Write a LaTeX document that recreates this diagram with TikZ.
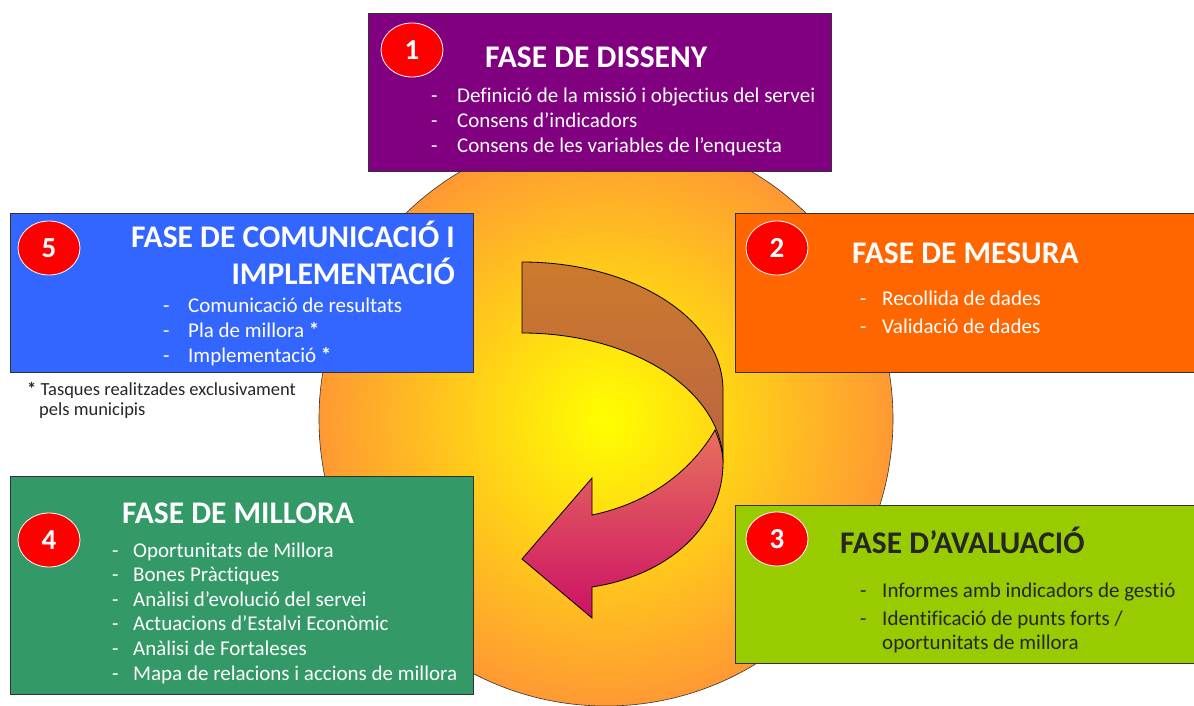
\documentclass[tikz,border=0pt]{standalone}
\usepackage{fontspec}
\setmainfont{Carlito}[Ligatures=NoCommon]
\usetikzlibrary{shapes.geometric}

\definecolor{morat}{HTML}{800080}
\definecolor{blau}{HTML}{3366FF}
\definecolor{taronja}{HTML}{FF6600}
\definecolor{pistatxo}{HTML}{99CC00}
\definecolor{verd}{HTML}{339966}
\definecolor{vermell}{HTML}{FF0000}
\definecolor{groc}{HTML}{FFFF00}
\definecolor{vora}{HTML}{FF9933}
\definecolor{marro}{HTML}{CC7A2C}
\definecolor{marrofosc}{HTML}{BA6442}
\definecolor{rosa}{HTML}{E8705C}
\definecolor{magenta}{HTML}{CC1166}
\definecolor{fosc}{HTML}{262626}

\tikzset{
  fase/.style={draw=black!80, line width=0.8pt, rectangle, anchor=north west, inner sep=0pt},
  numero/.style={draw=white, line width=0.8pt, fill=vermell, ellipse, minimum width=62pt,
    minimum height=54pt, inner sep=0pt, text=white, font=\fontsize{29}{32}\selectfont\bfseries},
  titol/.style={anchor=base west, inner sep=0pt, text=white, font=\fontsize{31.5}{36}\selectfont\bfseries},
  punt/.style={anchor=base west, inner sep=0pt, text=white, font=\fontsize{21}{25}\selectfont},
  nota/.style={anchor=base west, inner sep=0pt, text=fosc, font=\fontsize{18.5}{20}\selectfont},
  freccia/.style={draw=black, line width=0.8pt}
}

\begin{document}
\begin{tikzpicture}[x=1pt, y=-1pt]
\useasboundingbox (0,0) rectangle (1194,706);
\clip (0,0) rectangle (1194,706);
 % cercle
  \shade[inner color=groc, outer color=vora, draw=black!80, line width=0.6pt] (606,419) circle (287pt);
 % freccia
  \shade[freccia, top color=marro, bottom color=marrofosc]
    (522,262) .. controls (633,262) and (723,319) .. (723,390) -- (723,463)
    .. controls (723,391) and (633,333) .. (522,333) -- cycle;
  \shade[freccia, top color=rosa, bottom color=magenta]
    (715,430) .. controls (720,442) and (723,452) .. (723,463)
    .. controls (723,525) and (670,575) .. (592,587) -- (592,618) -- (522,559)
    -- (592,478) -- (592,515) .. controls (650,503) and (692,470) .. (715,430) -- cycle;
 % fasi
  \node (f1) at (368,13) [fase, fill=morat, minimum width=463pt, minimum height=158pt] {};
  \node (f5) at (10,213) [fase, fill=blau, minimum width=463pt, minimum height=159pt] {};
  \node (f2) at (735,213) [fase, fill=taronja, minimum width=480pt, minimum height=159pt] {};
  \node (f3) at (735,505) [fase, fill=pistatxo, minimum width=480pt, minimum height=158pt] {};
  \node (f4) at (10,476) [fase, fill=verd, minimum width=463pt, minimum height=218pt] {};
 % numeri
  \node (n1) at (412,50) [numero] {1};
  \node (n2) at (777,248) [numero] {2};
  \node (n3) at (777,539) [numero] {3};
  \node (n4) at (49,540) [numero] {4};
  \node (n5) at (49,248) [numero] {5};
 % titoli
  \node (t1) at (485,68) [titol] {FASE DE DISSENY};
  \node (t2) at (852,263) [titol] {FASE DE MESURA};
  \node (t3) at (840,553) [titol, text=fosc] {FASE D’AVALUACIÓ};
  \node (t4) at (122,523) [titol] {FASE DE MILLORA};
  \node (t5a) at (455,247) [titol, anchor=base east] {FASE DE COMUNICACIÓ I};
  \node (t5b) at (455,284) [titol, anchor=base east] {IMPLEMENTACIÓ};
 % punti
  \foreach \t [count=\i from 0] in {Definició de la missió i objectius del servei,
      Consens d’indicadors, Consens de les variables de l’enquesta}{
    \node (g1-\i) at (431,103+25*\i) [punt] {-};
    \node (p1-\i) at (457,103+25*\i) [punt] {\t};
  }
  \foreach \t [count=\i from 0] in {Recollida de dades, Validació de dades}{
    \node (g2-\i) at (860,305+28*\i) [punt] {-};
    \node (p2-\i) at (882,305+28*\i) [punt] {\t};
  }
  \node (g3-0) at (860,597) [punt, text=fosc] {-};
  \node (p3-0) at (882,597) [punt, text=fosc] {Informes amb indicadors de gestió};
  \node (g3-1) at (860,625) [punt, text=fosc] {-};
  \node (p3-1) at (882,625) [punt, text=fosc] {Identificació de punts forts /};
  \node (p3-2) at (882,649) [punt, text=fosc] {oportunitats de millora};
  \foreach \t [count=\i from 0] in {Oportunitats de Millora, Bones Pràctiques,
      Anàlisi d’evolució del servei, Actuacions d’Estalvi Econòmic,
      Anàlisi de Fortaleses, Mapa de relacions i accions de millora}{
    \node (g4-\i) at (112,557+24.6*\i) [punt] {-};
    \node (p4-\i) at (133,557+24.6*\i) [punt] {\t};
  }
  \foreach \t [count=\i from 0] in {Comunicació de resultats, Pla de millora \textbf{*},
      Implementació \textbf{*}}{
    \node (g5-\i) at (163,312+25*\i) [punt] {-};
    \node (p5-\i) at (188,312+25*\i) [punt] {\t};
  }
 % nota
  \node (s1) at (27,395) [nota] {\textbf{*} Tasques realitzades exclusivament};
  \node (s2) at (39,415) [nota] {pels municipis};
\end{tikzpicture}
\end{document}
